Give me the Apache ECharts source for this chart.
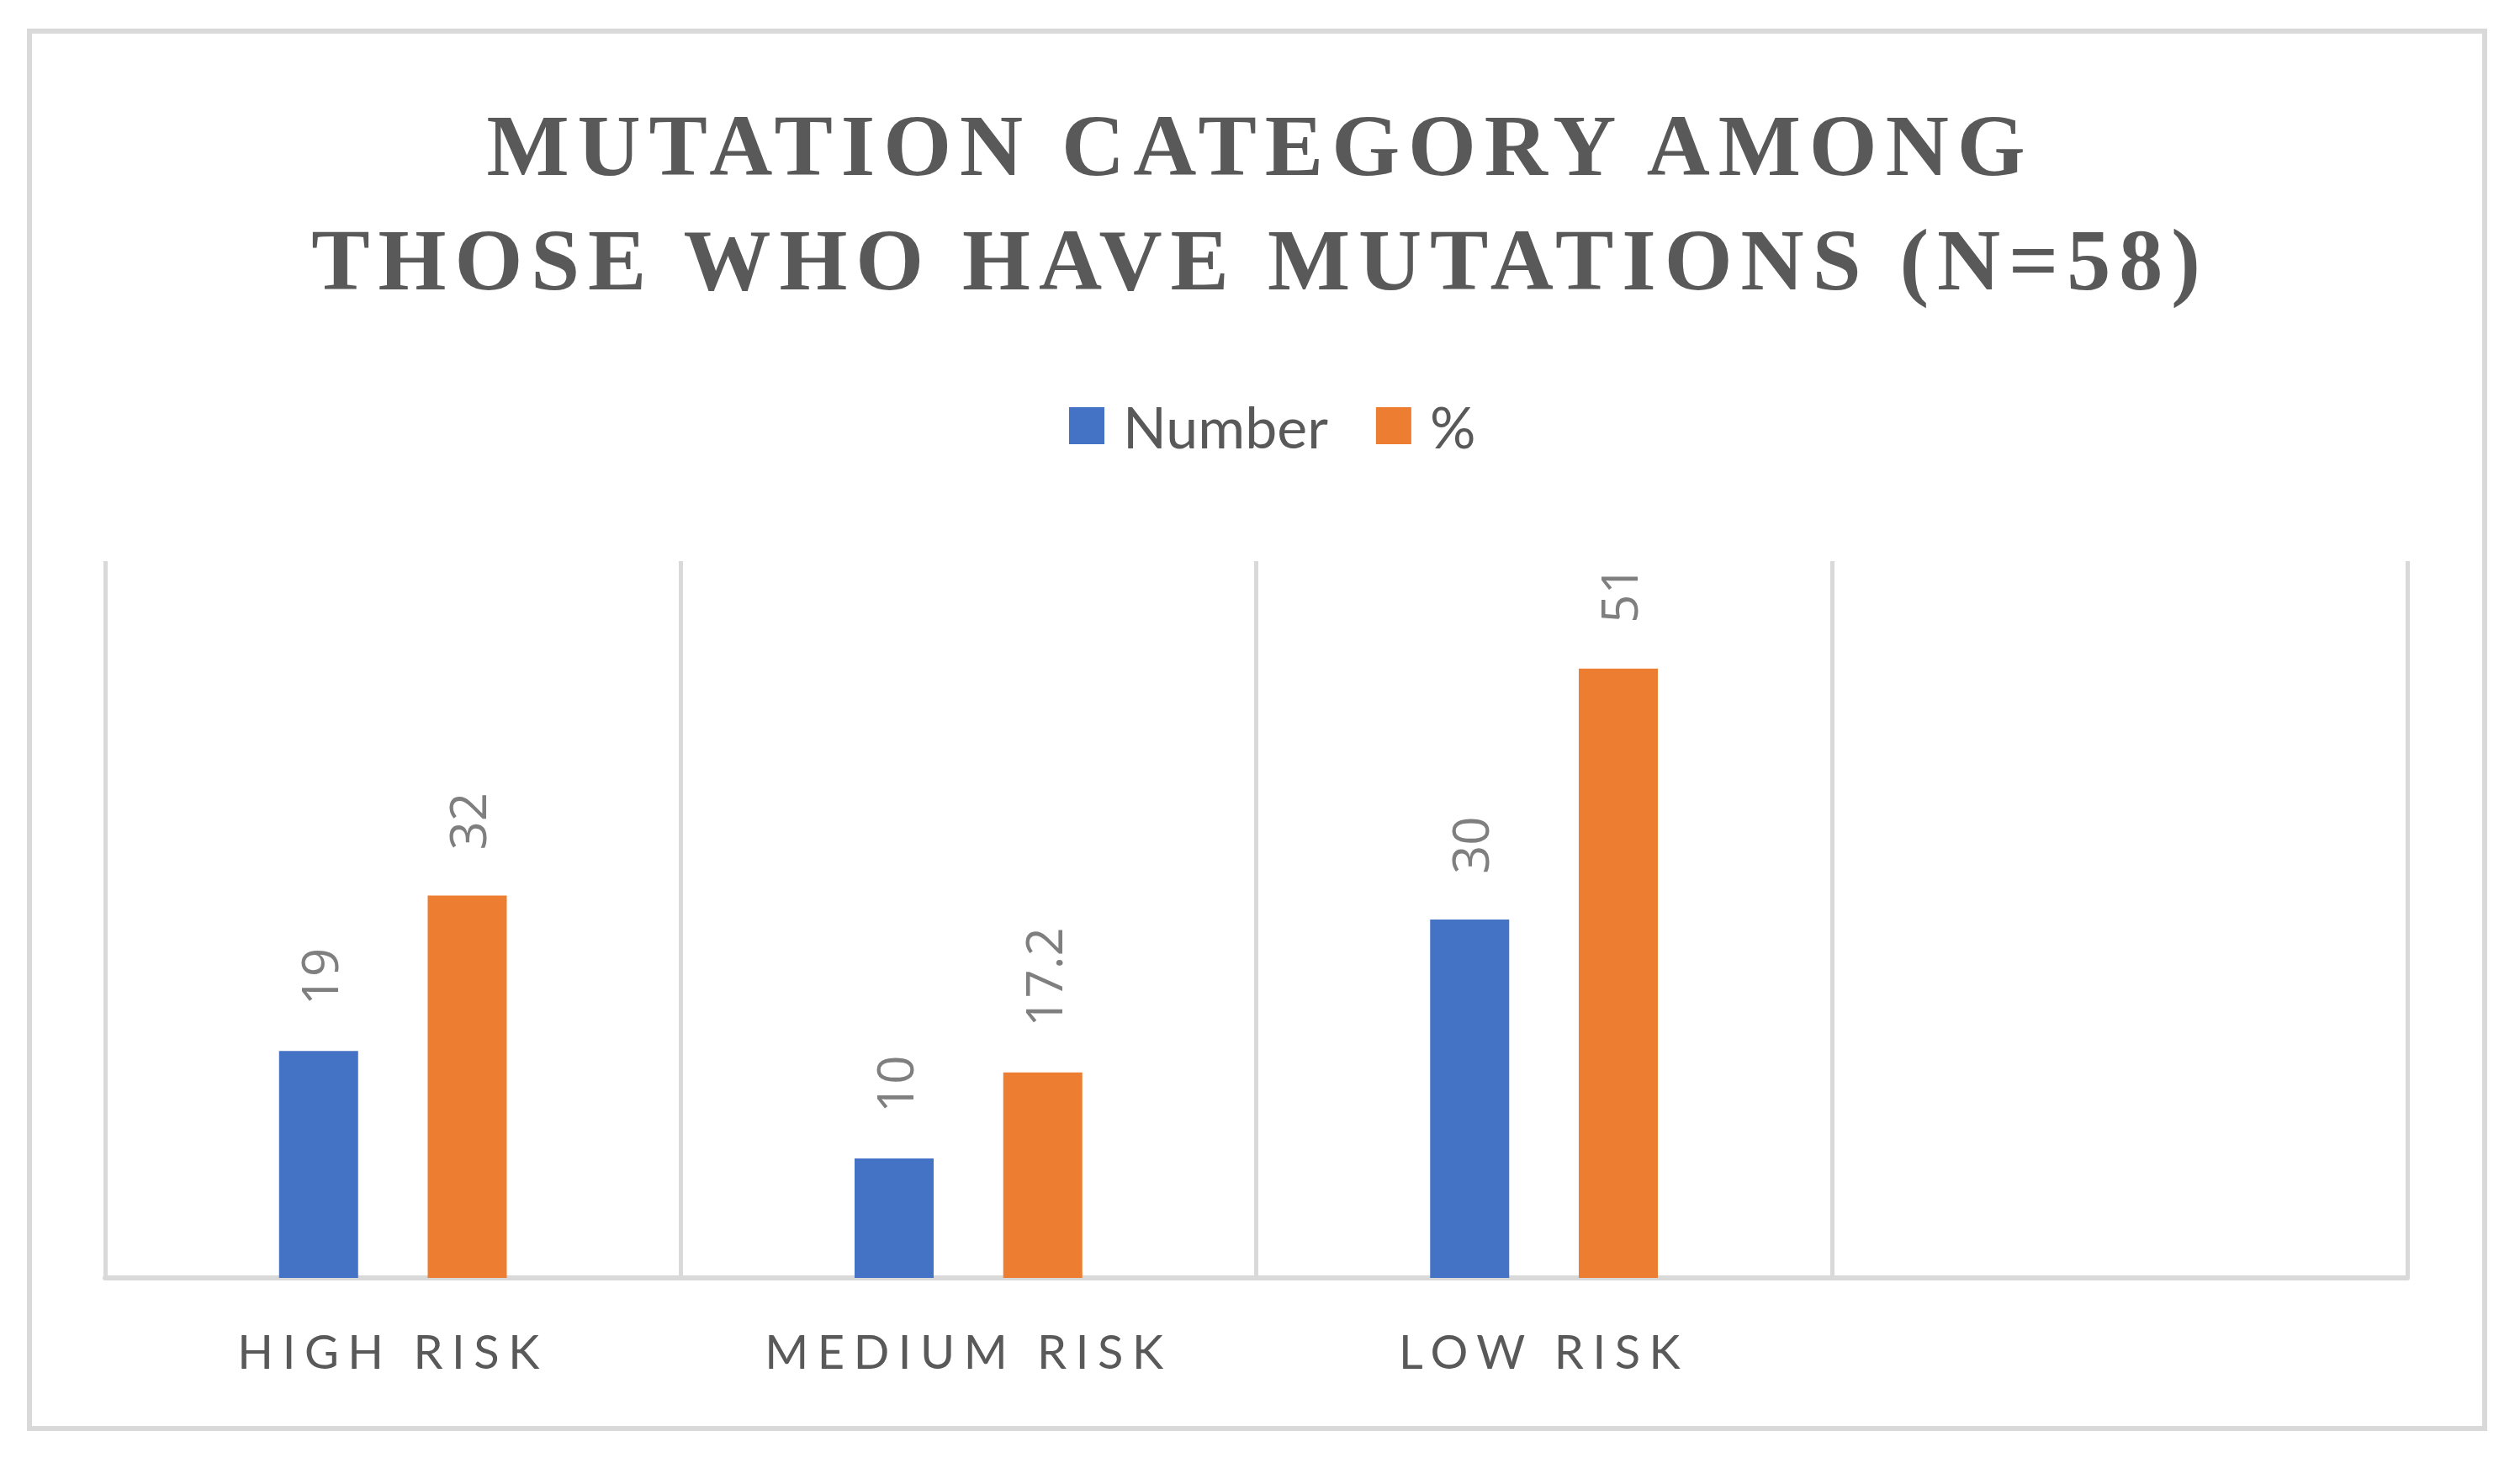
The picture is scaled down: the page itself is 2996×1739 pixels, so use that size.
<!DOCTYPE html>
<html><head><meta charset="utf-8">
<script src="https://cdn.jsdelivr.net/npm/echarts@6/dist/echarts.min.js"></script>
<style>html,body{margin:0;padding:0;background:#fff;} #c{width:2996px;height:1739px;}</style>
</head><body><div id="c"></div>
<script>
const titleLines = ['MUTATION CATEGORY AMONG', 'THOSE WHO HAVE MUTATIONS (N=58)'];
const categories = ['HIGH RISK', 'MEDIUM RISK', 'LOW RISK', ''];
const seriesNames = ['Number', '%'];
const numberValues = [19, 10, 30, null];
const percentValues = [32, 17.2, 51, null];
const yMin = 0, yMax = 60;

const TITLE_FONT = '"Liberation Serif", serif';
const CAT_FONT = 'Lato, "Noto Sans", sans-serif';

const chart = echarts.init(document.getElementById('c'), null, {renderer: 'svg', width: 2996, height: 1739});

const labelStyle = {
  show: true, position: 'top', rotate: 90, align: 'left', verticalAlign: 'middle',
  distance: 54, color: '#7f7f7f', fontSize: 60, fontFamily: '"Open Sans", sans-serif'
};

chart.setOption({
  animation: false,
  backgroundColor: '#ffffff',
  graphic: [{
    type: 'rect', shape: {x: 35, y: 37, width: 2919, height: 1661},
    style: {fill: 'none', stroke: '#d9d9d9', lineWidth: 6}, silent: true
  }],
  title: {
    text: titleLines.join('\n'), left: 'center', top: 104, padding: 0,
    textStyle: {fontFamily: TITLE_FONT, fontWeight: 'bold', fontSize: 104, lineHeight: 136, color: '#595959'}
  },
  legend: {
    data: seriesNames, left: 1271, top: 472, padding: 0,
    itemWidth: 42, itemHeight: 44, itemGap: 57, icon: 'rect',
    textStyle: {fontFamily: CAT_FONT, fontSize: 68, color: '#595959', padding: [0, 0, 0, 17]}
  },
  grid: {left: 125, right: 134, top: 667, bottom: 220, containLabel: false},
  xAxis: {
    type: 'category', data: categories,
    axisLine: {lineStyle: {color: '#d9d9d9', width: 6}},
    axisTick: {show: false},
    splitLine: {show: true, lineStyle: {color: '#d9d9d9', width: 5}},
    axisLabel: {margin: 58, fontFamily: CAT_FONT, fontSize: 56, color: '#595959', interval: 0}
  },
  yAxis: {type: 'value', min: yMin, max: yMax, show: false, splitLine: {show: false}},
  series: [
    {name: seriesNames[0], type: 'bar', data: numberValues, barWidth: 94, barGap: '88%',
     itemStyle: {color: '#4472C4'}, label: labelStyle},
    {name: seriesNames[1], type: 'bar', data: percentValues, barWidth: 94, barGap: '88%',
     itemStyle: {color: '#ED7D31'}, label: labelStyle}
  ]
});

function measure(text, font) {
  const ctx = document.createElement('canvas').getContext('2d');
  ctx.font = font;
  return ctx.measureText(text).width;
}
const tw1 = measure(titleLines[0], 'bold 104px ' + TITLE_FONT);
const tw2 = measure(titleLines[1], 'bold 104px ' + TITLE_FONT);
const titleSpacing = ((1848 - tw1) / (titleLines[0].length - 1) + (2235 - tw2) / (titleLines[1].length - 1)) / 2;
const cw = measure(categories[0], '56px ' + CAT_FONT);
const catSpacing = (359 - cw) / (categories[0].length - 1);

function applySpacing() {
  document.querySelectorAll('#c svg text').forEach(t => {
    const s = t.textContent;
    if (titleLines.indexOf(s) >= 0) t.style.letterSpacing = Math.max(0, titleSpacing) + 'px';
    else if (s && categories.indexOf(s) >= 0) t.style.letterSpacing = Math.max(0, catSpacing) + 'px';
  });
}
applySpacing();
chart.on('finished', applySpacing);
setTimeout(applySpacing, 50);
</script></body></html>
